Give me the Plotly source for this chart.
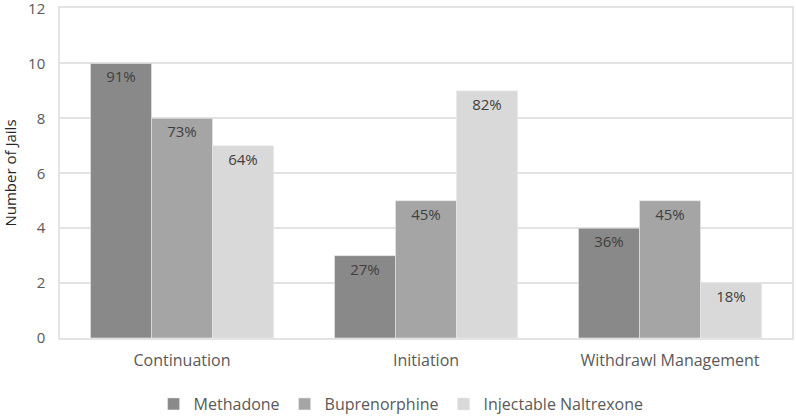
import plotly.graph_objects as go

categories = ["Continuation", "Initiation", "Withdrawl Management"]
series_names = ["Methadone", "Buprenorphine", "Injectable Naltrexone"]
methadone = [10, 3, 4]
buprenorphine = [8, 5, 5]
naltrexone = [7, 9, 2]
methadone_pct = ["91%", "27%", "36%"]
buprenorphine_pct = ["73%", "45%", "45%"]
naltrexone_pct = ["64%", "82%", "18%"]
y_ticks = [0, 2, 4, 6, 8, 10, 12]

colors = ["#898989", "#a5a5a5", "#d9d9d9"]
values = [methadone, buprenorphine, naltrexone]
labels = [methadone_pct, buprenorphine_pct, naltrexone_pct]

fig = go.Figure()
for name, vals, txt, col in zip(series_names, values, labels, colors):
    fig.add_trace(go.Bar(
        x=categories, y=vals, name=name, text=txt,
        textposition="inside", insidetextanchor="end",
        textfont=dict(color="#404040", size=15),
        marker=dict(color=col, line=dict(color="#e8e8e8", width=0.6)),
        cliponaxis=False,
    ))

fig.update_layout(
    width=796, height=416,
    barmode="group", bargap=0.25, bargroupgap=0,
    plot_bgcolor="white", paper_bgcolor="white",
    margin=dict(l=60, r=4, t=8, b=78, autoexpand=False),
    font=dict(family="Open Sans", size=15, color="#595959"),
    uniformtext=dict(mode="show", minsize=15),
    legend=dict(orientation="h", x=0.466, xanchor="center", y=-0.2, yanchor="middle",
                font=dict(size=16, color="#595959"), itemwidth=30, traceorder="normal"),
)
fig.update_xaxes(showline=True, linecolor="#e3e3e3", linewidth=1.5, mirror=True,
                 automargin=False, ticks="outside", ticklen=7, tickcolor="rgba(0,0,0,0)",
                 tickfont=dict(size=16, color="#595959"))
fig.update_yaxes(range=[0, 12.02], tickvals=y_ticks, showgrid=True, gridcolor="#e3e3e3",
                 gridwidth=1.5, showline=True, linecolor="#e3e3e3", linewidth=1.5, mirror=True,
                 automargin=False, zeroline=False, ticks="outside", ticklen=10,
                 tickcolor="rgba(0,0,0,0)", tickfont=dict(size=15, color="#595959"),
                 ticklabeloverflow="allow",
                 title=dict(text="Number of Jails", font=dict(size=15, color="#262626"), standoff=14))

# the page body has a default 8px margin; drop it so the chart sits at the window corner
fig.write_html("out.html", config={"displayModeBar": False},
               post_script="document.body.style.margin='0';")
